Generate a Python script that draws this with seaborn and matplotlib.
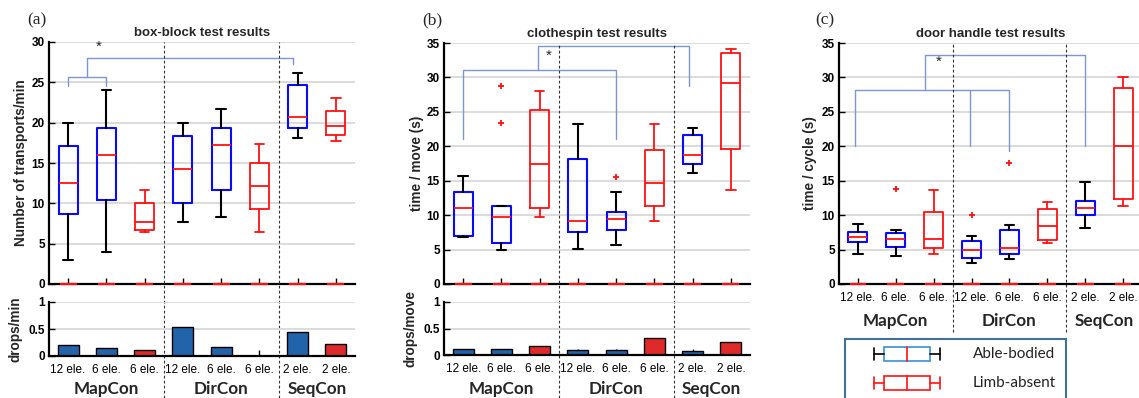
import matplotlib
matplotlib.use("Agg")
import matplotlib.pyplot as plt
import numpy as np
import pandas as pd
import seaborn as sns
from matplotlib.patches import Rectangle
from matplotlib.transforms import Bbox, TransformedBbox, blended_transform_factory

# ---------------------------------------------------------------- data
positions = [0, 1, 2, 3, 4, 5, 6, 7]
kinds = ["Able-bodied", "Able-bodied", "Limb-absent",
         "Able-bodied", "Able-bodied", "Limb-absent",
         "Able-bodied", "Limb-absent"]
tick_labels = ["12 ele.", "6 ele.", "6 ele.", "12 ele.", "6 ele.", "6 ele.", "2 ele.", "2 ele."]
groups = ["MapCon", "DirCon", "SeqCon"]
group_centers = [1, 4, 6.5]
separators = [2.5, 5.5]

# box-block test: transports per minute
a_med = [12.5, 16.0, 7.7, 14.2, 17.2, 12.2, 20.7, 19.6]
a_q1 = [8.7, 10.4, 6.7, 10.0, 11.6, 9.3, 19.3, 18.5]
a_q3 = [17.1, 19.4, 10.0, 18.4, 19.4, 15.0, 24.7, 21.4]
a_lo = [3.0, 4.0, 6.4, 7.7, 8.3, 6.4, 18.1, 17.7]
a_hi = [20.0, 24.0, 11.7, 20.0, 21.7, 17.4, 26.1, 23.0]
a_out = [[], [], [], [], [], [], [], []]
a_drops = [0.21, 0.14, 0.12, 0.54, 0.17, 0.0, 0.44, 0.23]

# clothespin test: seconds per move
b_med = [11.1, 9.7, 17.5, 9.1, 9.5, 14.6, 18.7, 29.2]
b_q1 = [6.9, 6.0, 11.1, 7.6, 7.9, 11.3, 17.5, 19.6]
b_q3 = [13.3, 11.3, 25.2, 18.1, 10.4, 19.5, 21.7, 33.5]
b_lo = [6.8, 4.9, 9.7, 5.1, 5.6, 9.1, 16.1, 13.7]
b_hi = [15.7, 11.3, 28.0, 23.2, 13.4, 23.2, 22.6, 34.2]
b_out = [[], [28.7, 23.4], [], [], [15.6], [], [], []]
b_drops = [0.11, 0.12, 0.175, 0.09, 0.09, 0.32, 0.07, 0.24]

# door handle test: seconds per cycle
c_med = [6.8, 6.5, 6.6, 4.9, 5.3, 8.4, 11.1, 20.0]
c_q1 = [6.1, 5.4, 5.2, 3.8, 4.4, 6.4, 10.0, 12.4]
c_q3 = [7.6, 7.4, 10.4, 6.3, 7.8, 10.9, 12.0, 28.4]
c_lo = [4.3, 4.1, 4.3, 3.1, 3.6, 5.9, 8.1, 11.4]
c_hi = [8.7, 7.8, 13.6, 6.9, 8.6, 11.9, 14.8, 30.0]
c_out = [[], [13.8], [], [10.0], [17.6], [], [], []]

# significance brackets (x in box positions, y in axis units)
a_brackets = [([0, 0, 1, 1], [24.6, 25.6, 25.6, 24.6]),
              ([0.5, 0.5, 5.87, 5.87], [25.6, 28.0, 28.0, 27.3])]
a_star = (0.8, 29.4)
b_brackets = [([0, 0, 4, 4], [21.1, 31.1, 31.1, 21.1]),
              ([1.97, 1.97, 5.9, 5.9], [31.1, 34.5, 34.5, 28.7])]
b_star = (2.25, 33.2)
c_brackets = [([-0.09, -0.09, 3.99, 3.99], [20.1, 28.2, 28.2, 19.3]),
              ([2.95, 2.95], [28.2, 20.1]),
              ([1.76, 1.76, 5.99, 5.99], [28.2, 33.2, 33.2, 20.1])]
c_star = (2.12, 32.2)

# ---------------------------------------------------------------- style
BLUE = "#0a0aff"
RED = "#ff1010"
BAR_BLUE = "#0b62c0"
BAR_RED = "#ff0a0a"
GRID = "#d9d9d9"
SIG = "#7b98cc"
LEG_EDGE = "#41719c"

TICK_FS = 8.5
XTICK_FS = 8.5
TITLE_FS = 9.5
YLABEL_FS = 9.8
GROUP_FS = 12.3

sns.set_theme(style="white")
plt.rcParams["font.family"] = ["Liberation Sans", "DejaVu Sans"]

W, H = 1139, 398
fig = plt.figure(figsize=(W / 100, H / 100), dpi=100, facecolor="white")


def rect(x0, y0, x1, y1):
    return [x0 / W, 1 - y1 / H, (x1 - x0) / W, (y1 - y0) / H]


def style_axes(ax, ymax, yticks, yticklabels=None):
    ax.set_xlim(-0.5, 7.5)
    ax.set_ylim(0, ymax)
    ax.set_yticks(yticks)
    if yticklabels is not None:
        ax.set_yticklabels(yticklabels)
    ax.set_xticks(positions)
    ax.yaxis.grid(True, color=GRID, lw=1.3)
    ax.xaxis.grid(False)
    ax.set_axisbelow(True)
    for s in ["top", "right"]:
        ax.spines[s].set_visible(False)
    for s in ["left", "bottom"]:
        ax.spines[s].set_color("black")
        ax.spines[s].set_linewidth(1.6)
    ax.tick_params(direction="in", length=4, width=1, colors="black",
                   left=True, bottom=True, labelsize=TICK_FS, pad=3)
    ax.tick_params(axis="x", pad=6)
    for t in ax.get_yticklabels():
        t.set_fontweight("bold")
    ax.set_xlabel("")


def draw_boxes(ax, med, q1, q3, lo, hi, out):
    stats = [dict(med=m, q1=a, q3=b, whislo=l, whishi=h, fliers=f)
             for m, a, b, l, h, f in zip(med, q1, q3, lo, hi, out)]
    for kind, edge, wcol, lw in [("Able-bodied", BLUE, "black", 1.5),
                                 ("Limb-absent", RED, RED, 1.3)]:
        idx = [i for i, k in enumerate(kinds) if k == kind]
        ax.bxp([stats[i] for i in idx], positions=[positions[i] for i in idx],
               widths=0.5, capwidths=0.25, showfliers=True, manage_ticks=False,
               boxprops=dict(color=edge, lw=lw),
               whiskerprops=dict(color=wcol, lw=lw),
               capprops=dict(color=wcol, lw=lw),
               medianprops=dict(color=RED, lw=1.3),
               flierprops=dict(marker="+", markeredgecolor=RED, markersize=5,
                               markeredgewidth=1.3, linestyle="none"))
    ax.hlines([0] * len(positions), [p - 0.22 for p in positions],
              [p + 0.22 for p in positions], colors=RED, lw=1.6,
              clip_on=False, zorder=3)


def draw_sig(ax, brackets, star):
    for xs, ys in brackets:
        ax.plot(xs, ys, color=SIG, lw=1.0, clip_on=False, zorder=4)
    ax.text(star[0], star[1], "*", ha="center", va="center", fontsize=11,
            color="#222222")


def separators_on(ax, ymin):
    for x in separators:
        ax.axvline(x, ymin=ymin, ymax=1, color="#333333", lw=0.8,
                   ls=(0, (2.5, 2)), clip_on=False, zorder=5)


def group_text(ax, y, va="center"):
    tr = blended_transform_factory(ax.transData, ax.transAxes)
    for g, c in zip(groups, group_centers):
        ax.text(c, y, g, transform=tr, ha="center", va=va,
                fontsize=GROUP_FS, fontweight="bold",
                family=["Lato", "DejaVu Sans"])


def draw_bars(ax, drops):
    df = pd.DataFrame({"pos": positions, "drops": drops, "kind": kinds})
    sns.barplot(data=df, x="pos", y="drops", hue="kind", dodge=False,
                palette={"Able-bodied": BAR_BLUE, "Limb-absent": BAR_RED},
                width=0.55, edgecolor="black", linewidth=1.0, legend=False,
                ax=ax)
    ax.set_facecolor("none")
    style_axes(ax, 1, [0, 0.5, 1], ["0", "0.5", "1"])
    ax.set_xticklabels(tick_labels, fontsize=XTICK_FS)


# ---------------------------------------------------------------- panel (a)
ax_a = fig.add_axes(rect(49, 42, 355, 284))
draw_boxes(ax_a, a_med, a_q1, a_q3, a_lo, a_hi, a_out)
style_axes(ax_a, 30, range(0, 31, 5))
ax_a.tick_params(labelbottom=False)
ax_a.set_title("box-block test results", fontsize=TITLE_FS, fontweight="bold", pad=4)
ax_a.set_ylabel("Number of transports/min", fontsize=YLABEL_FS, fontweight="bold")
ax_a.yaxis.set_label_coords(-0.069, 0.5)
draw_sig(ax_a, a_brackets, a_star)
separators_on(ax_a, (284 - 398) / (284 - 42))

axb_a = fig.add_axes(rect(49, 302, 355, 356))
draw_bars(axb_a, a_drops)
axb_a.set_ylabel("drops/min", fontsize=YLABEL_FS, fontweight="bold")
axb_a.yaxis.set_label_coords(-0.085, 0.5)
group_text(axb_a, (356 - 394) / (356 - 302), va="baseline")

# ---------------------------------------------------------------- panel (b)
ax_b = fig.add_axes(rect(444, 43, 750, 284))
draw_boxes(ax_b, b_med, b_q1, b_q3, b_lo, b_hi, b_out)
style_axes(ax_b, 35, range(0, 36, 5))
ax_b.tick_params(labelbottom=False)
ax_b.set_title("clothespin test results", fontsize=TITLE_FS, fontweight="bold", pad=4)
ax_b.set_ylabel("time / move (s)", fontsize=YLABEL_FS, fontweight="bold")
ax_b.yaxis.set_label_coords(-0.065, 0.5)
draw_sig(ax_b, b_brackets, b_star)
separators_on(ax_b, (284 - 398) / (284 - 43))

axb_b = fig.add_axes(rect(444, 302, 750, 355))
draw_bars(axb_b, b_drops)
axb_b.set_ylabel("drops/move", fontsize=YLABEL_FS, fontweight="bold")
axb_b.yaxis.set_label_coords(-0.088, 0.5)
group_text(axb_b, (355 - 394) / (355 - 302), va="baseline")

# ---------------------------------------------------------------- panel (c)
ax_c = fig.add_axes(rect(839, 43, 1142, 284))
draw_boxes(ax_c, c_med, c_q1, c_q3, c_lo, c_hi, c_out)
style_axes(ax_c, 35, range(0, 36, 5))
ax_c.set_xticklabels(tick_labels, fontsize=XTICK_FS)
ax_c.set_title("door handle test results", fontsize=TITLE_FS, fontweight="bold", pad=4)
ax_c.set_ylabel("time / cycle (s)", fontsize=YLABEL_FS, fontweight="bold")
ax_c.yaxis.set_label_coords(-0.073, 0.5)
draw_sig(ax_c, c_brackets, c_star)
separators_on(ax_c, (284 - 332) / (284 - 43))
group_text(ax_c, (284 - 321) / (284 - 43))

# legend box for panel (c)
lax = fig.add_axes(rect(845, 339, 1066, 412))
lax.set_xlim(0, 1)
lax.set_ylim(0, 1)
lax.set_xticks([])
lax.set_yticks([])
lax.set_facecolor("white")
for s in lax.spines.values():
    s.set_visible(True)
    s.set_color(LEG_EDGE)
    s.set_linewidth(1.5)


def legend_key(ax, y, box_c, wh_c, label):
    h, hc = 0.09, 0.08
    x0, b0, b1, x1 = 0.131, 0.176, 0.385, 0.43
    mid = (b0 + b1) / 2
    ax.plot([x0, b0], [y, y], color=wh_c, lw=1.2)
    ax.plot([b1, x1], [y, y], color=wh_c, lw=1.2)
    ax.plot([x0, x0], [y - hc, y + hc], color=wh_c, lw=1.2)
    ax.plot([x1, x1], [y - hc, y + hc], color=wh_c, lw=1.2)
    ax.add_patch(Rectangle((b0, y - h), b1 - b0, 2 * h, fill=False,
                           ec=box_c, lw=1.2))
    ax.plot([mid, mid], [y - h, y + h], color=RED, lw=1.2)
    ax.text(0.579, y, label, va="center", ha="left", fontsize=11,
            family=["Lato", "DejaVu Sans"], color="#222222")


legend_key(lax, 1 - (354 - 339) / 73, "#3b8fd8", "black", "Able-bodied")
legend_key(lax, 1 - (383 - 339) / 73, RED, RED, "Limb-absent")

# panel letters
for x, letter in [(27, "(a)"), (422, "(b)"), (815, "(c)")]:
    fig.text(x / W, 1 - 20 / H, letter, ha="left", va="center", fontsize=12.5,
             family=["Liberation Serif", "DejaVu Serif"])

fig.savefig("out.png", dpi=100, facecolor="white")
